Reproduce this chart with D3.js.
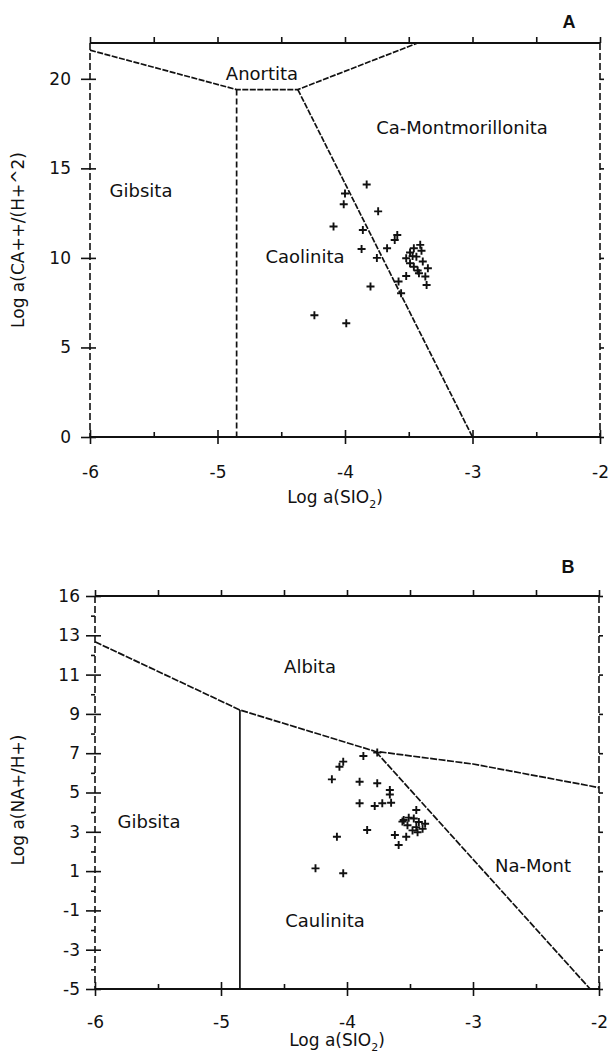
<!DOCTYPE html>
<html lang="pt">
<head>
<meta charset="UTF-8">
<title>Diagramas de estabilidade</title>
<style>
  body { margin: 0; background: #fff; }
  text { font-family: "DejaVu Sans", sans-serif; fill: #111; }
</style>
</head>
<body>
<svg id="chart"></svg>
<script src="https://cdn.jsdelivr.net/npm/d3@7/dist/d3.min.js"></script>
<script>

// x axis, shared by both panels
const xTicks = [-6, -5, -4, -3, -2];
const xMinorTicks = [-5.5, -4.5, -3.5, -2.5];

// panel A: Ca system
const caYTicks = [0, 5, 10, 15, 20];
const caFieldTop = [[-6, 21.6], [-4.85, 19.4], [-4.37, 19.4], [-3.43, 22]];
const caGibbsiteLine = [[-4.85, 19.4], [-4.85, 0]];
const caKaoliniteLine = [[-4.37, 19.4], [-3.0, 0]];
const caSiO2 = [-3.83, -4.0, -4.01, -3.74, -4.09, -3.86, -3.87, -3.75, -3.67, -3.61, -3.59,
  -3.80, -3.58, -3.56, -4.24, -3.99,
  -3.41, -3.46, -3.52, -3.49, -3.44, -3.39, -3.35, -3.46, -3.52, -3.42, -3.37, -3.36, -3.49, -3.40, -3.47, -3.43];
const caLogA = [14.1, 13.6, 13.0, 12.6, 11.75, 11.56, 10.5, 10.0, 10.54, 11.0, 11.28,
  8.4, 8.68, 8.03, 6.8, 6.35,
  10.73, 10.54, 9.98, 10.3, 10.07, 9.8, 9.42, 9.51, 8.99, 9.14, 8.96, 8.49, 9.7, 10.4, 10.1, 9.3];

// panel B: Na system
const naYTicks = [-5, -3, -1, 1, 3, 5, 7, 9, 11, 13, 15];
const naYTickLabels = ['-5', '-3', '-1', '1', '3', '5', '7', '9', '11', '13', '16'];
const naYMinorTicks = [-4, -2, 0, 2, 4, 6, 8, 10, 12, 14];
const naAlbiteLine = [[-6, 12.67], [-4.85, 9.2], [-3.78, 7.1], [-3, 6.45], [-2, 5.25]];
const naGibbsiteLine = [[-4.85, 9.2], [-4.85, -5]];
const naMontLine = [[-3.77, 7.07], [-2.07, -5]];
const naSiO2 = [-4.03, -4.06, -3.87, -3.76, -4.12, -3.90, -3.76, -3.66, -3.90, -3.78, -3.72, -3.65, -3.66,
  -3.45, -3.84, -4.08, -3.62, -3.53, -3.59, -4.25, -4.03,
  -3.55, -3.51, -3.47, -3.43, -3.52, -3.45, -3.40, -3.48, -3.38, -3.56, -3.44];
const naLogA = [6.57, 6.31, 6.86, 7.03, 5.67, 5.55, 5.47, 5.13, 4.45, 4.31, 4.45, 4.48, 4.9,
  4.11, 3.09, 2.75, 2.84, 2.75, 2.33, 1.14, 0.89,
  3.6, 3.72, 3.68, 3.5, 3.33, 3.24, 3.15, 3.07, 3.41, 3.52, 2.98];

const svg = d3.select('#chart')
    .attr('width', 610)
    .attr('height', 1053);

svg.append('rect').attr('width', 610).attr('height', 1053).attr('fill', '#fff');

function drawPanel(p) {
    const x = d3.scaleLinear().domain([-6, -2]).range([p.left, p.right]);
    const y = d3.scaleLinear().domain(p.yDomain).range([p.bottom, p.top]);
    const g = svg.append('g');
    const line = d3.line().x(d => x(d[0])).y(d => y(d[1]));

    // frame: top and bottom solid, sides dashed
    g.append('line').attr('x1', p.left).attr('x2', p.right).attr('y1', p.top).attr('y2', p.top)
        .attr('stroke', '#111').attr('stroke-width', 2);
    g.append('line').attr('x1', p.left).attr('x2', p.right).attr('y1', p.bottom).attr('y2', p.bottom)
        .attr('stroke', '#111').attr('stroke-width', 2);
    [p.left, p.right].forEach(xx => {
        g.append('line').attr('x1', xx).attr('x2', xx).attr('y1', p.top).attr('y2', p.bottom)
            .attr('stroke', '#111').attr('stroke-width', 1.6).attr('stroke-dasharray', '7,3');
    });

    // x axis: labels + outward ticks, plus inward ticks
    g.append('g').attr('transform', `translate(0,${p.bottom})`)
        .call(d3.axisBottom(x).tickValues(xTicks).tickSize(7).tickPadding(p.xPad).tickFormat(d => String(d)));
    g.append('g').attr('transform', `translate(0,${p.bottom})`)
        .call(d3.axisTop(x).tickValues(xTicks).tickSize(7).tickFormat(''));
    g.append('g').attr('transform', `translate(0,${p.bottom})`)
        .call(d3.axisTop(x).tickValues(xMinorTicks).tickSize(5).tickFormat(''));
    // top axis ticks
    g.append('g').attr('transform', `translate(0,${p.top})`)
        .call(d3.axisTop(x).tickValues(xTicks.concat(xMinorTicks)).tickSize(6).tickFormat(''));

    // y axis
    g.append('g').attr('transform', `translate(${p.left},0)`)
        .call(d3.axisLeft(y).tickValues(p.yTicks).tickSize(9).tickPadding(p.yPad)
            .tickFormat((d, i) => p.yLabels[i]));
    g.append('g').attr('transform', `translate(${p.left},0)`)
        .call(d3.axisRight(y).tickValues(p.yTicks).tickSize(6).tickFormat(''));
    if (p.yMinor) {
        g.append('g').attr('transform', `translate(${p.left},0)`)
            .call(d3.axisLeft(y).tickValues(p.yMinor).tickSize(4).tickFormat(''));
    }
    g.append('g').attr('transform', `translate(${p.right},0)`)
        .call(d3.axisRight(y).tickValues(p.yTicks).tickSize(4).tickFormat(''));

    g.selectAll('.domain').remove();
    g.selectAll('.tick line').attr('stroke', '#111').attr('stroke-width', 1.6);
    g.selectAll('.tick text').style('font-size', '17px').style('font-family', '"DejaVu Sans", sans-serif')
        .attr('fill', '#111');

    // field boundaries
    p.lines.forEach(l => {
        g.append('path').datum(l.pts).attr('d', line)
            .attr('fill', 'none').attr('stroke', '#111').attr('stroke-width', 1.7)
            .attr('stroke-dasharray', l.dash || null);
    });

    // samples as "+"
    const pts = p.xs.map((v, i) => [v, p.ys[i]]);
    g.append('g').selectAll('path').data(pts).join('path')
        .attr('transform', d => `translate(${x(d[0])},${y(d[1])})`)
        .attr('d', 'M-4,0H4M0,-4V4')
        .attr('stroke', '#111').attr('stroke-width', 1.9).attr('fill', 'none');

    // region names
    p.fields.forEach(f => {
        g.append('text').attr('x', f[1]).attr('y', f[2]).attr('text-anchor', 'middle')
            .style('font-size', '18px').text(f[0]);
    });

    // panel letter
    g.append('text').attr('x', p.letter[1]).attr('y', p.letter[2]).attr('text-anchor', 'middle')
        .style('font-size', '18px').style('font-weight', 'bold').style('font-family', '"Liberation Sans", Arial, sans-serif')
        .text(p.letter[0]);

    // axis titles
    const xt = g.append('text').attr('x', (p.left + p.right) / 2 - 10).attr('y', p.xTitleY)
        .attr('text-anchor', 'middle').style('font-size', '17px');
    xt.append('tspan').text('Log a(SIO');
    xt.append('tspan').attr('dy', 5).style('font-size', '11px').text('2');
    xt.append('tspan').attr('dy', -5).text(')');

    g.append('text').attr('transform', `translate(24,${p.yTitleY}) rotate(-90)`)
        .attr('text-anchor', 'middle').style('font-size', '17px').text(p.yTitle);
}

drawPanel({
    left: 90, right: 600, top: 43, bottom: 437,
    yDomain: [0, 22], yTicks: caYTicks, yLabels: caYTicks.map(String),
    xPad: 22, yPad: 10, xTitleY: 503, yTitleY: 240,
    yTitle: 'Log a(CA++/(H+^2)',
    lines: [
        {pts: caFieldTop, dash: '6,1.5'},
        {pts: caGibbsiteLine, dash: '6,3'},
        {pts: caKaoliniteLine, dash: '6,1.5'}
    ],
    xs: caSiO2, ys: caLogA,
    fields: [['Anortita', 262, 80], ['Ca-Montmorillonita', 462, 134], ['Gibsita', 141, 197], ['Caolinita', 305, 263]],
    letter: ['A', 569, 28]
});

drawPanel({
    left: 95, right: 599, top: 596, bottom: 989,
    yDomain: [-5, 15], yTicks: naYTicks, yLabels: naYTickLabels, yMinor: naYMinorTicks,
    xPad: 20, yPad: 6, xTitleY: 1046, yTitleY: 800,
    yTitle: 'Log a(NA+/H+)',
    lines: [
        {pts: naAlbiteLine, dash: '7,1.5'},
        {pts: naGibbsiteLine, dash: null},
        {pts: naMontLine, dash: '7,1.5'}
    ],
    xs: naSiO2, ys: naLogA,
    fields: [['Albita', 310, 673], ['Gibsita', 149, 828], ['Na-Mont', 533, 872], ['Caulinita', 325, 927]],
    letter: ['B', 568, 573]
});

</script>
</body>
</html>
